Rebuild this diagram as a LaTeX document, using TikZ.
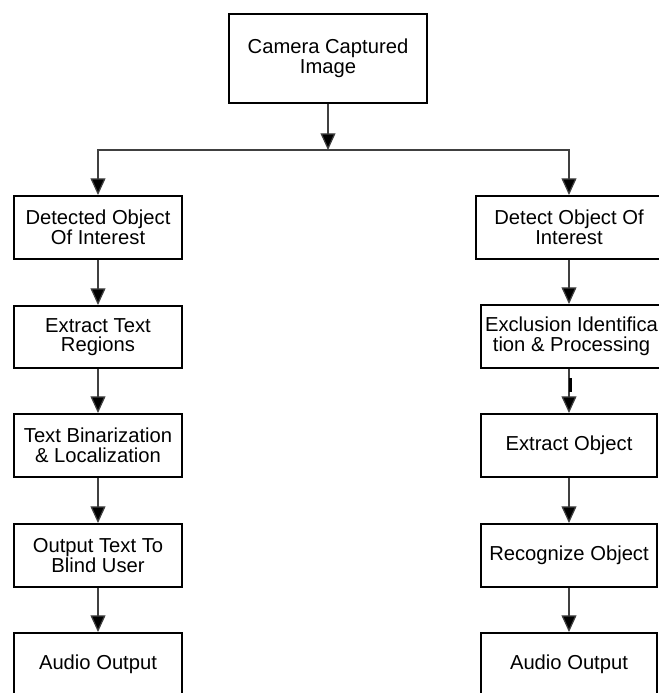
\documentclass[tikz,border=0pt]{standalone}
\usepackage{fontspec}
\setmainfont{Liberation Sans}
\usetikzlibrary{arrows.meta,calc}

\tikzset{
  stepbox/.style={draw,line width=1.1pt,align=center,inner sep=2pt,
    font=\fontsize{11.5}{11.2}\selectfont},
  flow/.style={line width=0.7pt,draw=black!75,
    -{Triangle[length=9.5pt,width=8.5pt,fill=black]}}
}

\begin{document}
\begin{tikzpicture}[x=0.02cm,y=-0.02cm]
      \clip (0,0) rectangle (659,693);
      % Top
      \node[stepbox,minimum width=3.96cm,minimum height=1.78cm] (cam) at (328,58.5)
        {Camera Captured\\Image};
      \coordinate (bus) at (328,150);
      % Left branch
      \node[stepbox,minimum width=3.36cm,minimum height=1.26cm] (L1) at (98,227.5) {Detected Object\\Of Interest};
      \node[stepbox,minimum width=3.36cm,minimum height=1.24cm] (L2) at (98,337) {Extract Text\\Regions};
      \node[stepbox,minimum width=3.36cm,minimum height=1.26cm] (L3) at (98,445.5) {Text Binarization\\\& Localization};
      \node[stepbox,minimum width=3.36cm,minimum height=1.26cm] (L4) at (98,555.5) {Output Text To\\Blind User};
      \node[stepbox,minimum width=3.36cm,minimum height=1.26cm] (L5) at (98,664.5) {Audio Output};
      % Right branch
      \node[stepbox,minimum width=3.72cm,minimum height=1.26cm] (R1) at (569,227.5) {Detect Object Of\\Interest};
      \node[stepbox,minimum width=3.62cm,minimum height=1.26cm] (R2) at (571.5,336.5) {Exclusion Identifica\\tion \& Processing};
      \node[stepbox,minimum width=3.52cm,minimum height=1.26cm] (R3) at (569,445.5) {Extract Object};
      \node[stepbox,minimum width=3.52cm,minimum height=1.26cm] (R4) at (569,555.5) {Recognize Object};
      \node[stepbox,minimum width=3.52cm,minimum height=1.26cm] (R5) at (569,664.5) {Audio Output};
      % Connectors
      \draw[flow] (cam) -- (bus);
      \draw[flow] (bus) -| (L1);
      \draw[flow] (bus) -| (R1);
      \draw[flow] (L1) -- (L2);
      \draw[flow] (L2) -- (L3);
      \draw[flow] (L3) -- (L4);
      \draw[flow] (L4) -- (L5);
      \draw[flow] (R1) -- (R2.north -| R1);
      \draw[flow] (R2.south -| R3) -- (R3);
      \draw[line width=1.5pt] (570.5,378) -- (570.5,392);
      \draw[flow] (R3) -- (R4);
      \draw[flow] (R4) -- (R5);
\end{tikzpicture}
\end{document}
